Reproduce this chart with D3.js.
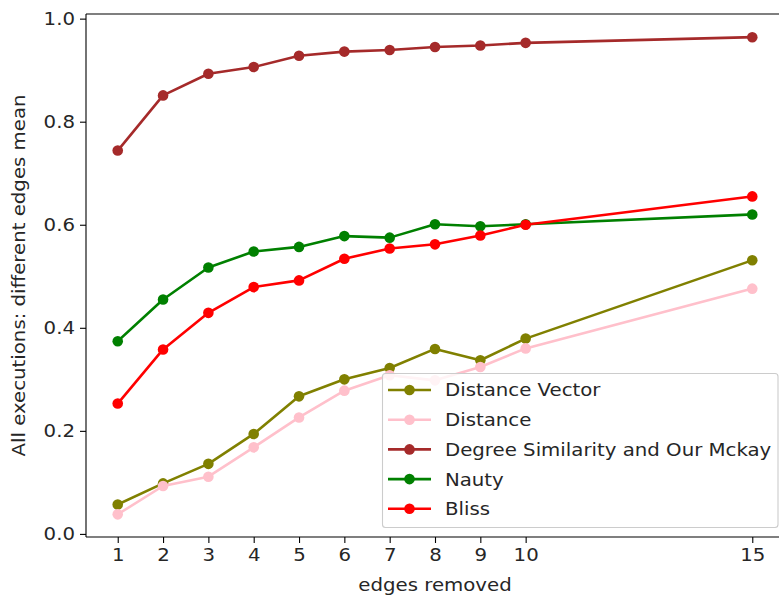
<!DOCTYPE html>
<html>
<head>
<meta charset="utf-8">
<script src="https://cdn.jsdelivr.net/npm/d3@7"></script>
<style>
  html, body { margin: 0; padding: 0; background: #fff; overflow: hidden; }
  svg { display: block; }
  text { font-family: "DejaVu Sans", sans-serif; fill: #262626; }
</style>
</head>
<body>
<svg id="chart" width="779" height="596"></svg>
<script>
// ---- data ----
const edgesRemoved = [1, 2, 3, 4, 5, 6, 7, 8, 9, 10, 15];
const xTicks = [1, 2, 3, 4, 5, 6, 7, 8, 9, 10, 15];
const yTicks = [0.0, 0.2, 0.4, 0.6, 0.8, 1.0];

const seriesNames = ["Distance Vector", "Distance", "Degree Similarity and Our Mckay", "Nauty", "Bliss"];
const seriesColors = ["#808000", "#ffc0cb", "#a52a2a", "#008000", "#ff0000"];

const distanceVector = [0.057, 0.098, 0.136, 0.194, 0.267, 0.300, 0.322, 0.359, 0.337, 0.379, 0.531];
const distance       = [0.038, 0.093, 0.111, 0.168, 0.226, 0.278, 0.308, 0.298, 0.324, 0.360, 0.476];
const degreeSim      = [0.744, 0.851, 0.893, 0.906, 0.928, 0.936, 0.939, 0.945, 0.948, 0.953, 0.964];
const nauty          = [0.374, 0.455, 0.517, 0.548, 0.557, 0.578, 0.575, 0.601, 0.597, 0.601, 0.620];
const bliss          = [0.253, 0.358, 0.429, 0.479, 0.492, 0.534, 0.554, 0.562, 0.579, 0.600, 0.655];

const seriesValues = [distanceVector, distance, degreeSim, nauty, bliss];

const xLabel = "edges removed";
const yLabel = "All executions: different edges mean";

// ---- layout ----
const svg = d3.select("#chart");
const pLeft = 86, pRight = 784, pTop = 14, pBottom = 537;
const fontSize = 17.8;
const stretch = 1.11;

const x = d3.scaleLinear().domain([0.3, 15.7]).range([pLeft, pRight]);
const y = d3.scaleLinear().domain([-0.006, 1.009]).range([pBottom, pTop]);

// axes
const xAxis = d3.axisBottom(x).tickValues(xTicks).tickFormat(d3.format("d")).tickSizeInner(6).tickSizeOuter(0).tickPadding(5);
const yAxis = d3.axisLeft(y).tickValues(yTicks).tickFormat(d3.format(".1f")).tickSizeInner(6).tickSizeOuter(0).tickPadding(5);

const gx = svg.append("g").attr("transform", `translate(0,${pBottom})`).call(xAxis);
const gy = svg.append("g").attr("transform", `translate(${pLeft},0)`).call(yAxis);
[gx, gy].forEach(g => {
  g.select(".domain").remove();
  g.selectAll(".tick line").attr("stroke", "#000").attr("stroke-width", 1.1);
  g.selectAll(".tick text").attr("font-size", fontSize).attr("font-family", "DejaVu Sans, sans-serif").attr("fill", "#262626");
});

// spines
const spine = (x1, y1, x2, y2) => svg.append("line").attr("x1", x1).attr("y1", y1).attr("x2", x2).attr("y2", y2)
  .attr("stroke", "#000").attr("stroke-width", 1.1);
spine(pLeft, pTop, pLeft, pBottom);
spine(pLeft, pBottom, pRight, pBottom);
spine(pLeft, pTop, pRight, pTop);
spine(pRight, pTop, pRight, pBottom);

// series
const line = d3.line().x((d, i) => x(edgesRemoved[i])).y(d => y(d));
seriesValues.forEach((vals, si) => {
  const g = svg.append("g");
  g.append("path").datum(vals).attr("d", line).attr("fill", "none")
    .attr("stroke", seriesColors[si]).attr("stroke-width", 2.6).attr("stroke-linejoin", "round").attr("stroke-linecap", "square");
  g.selectAll("circle").data(vals).join("circle")
    .attr("cx", (d, i) => x(edgesRemoved[i])).attr("cy", d => y(d)).attr("r", 5.3)
    .attr("fill", seriesColors[si]);
});

// axis labels
svg.append("text").attr("x", (pLeft + pRight) / 2).attr("y", 591).attr("text-anchor", "middle")
  .attr("font-size", fontSize).text(xLabel);
svg.append("text").attr("transform", `translate(25,${(pTop + pBottom) / 2}) rotate(-90)`).attr("text-anchor", "middle")
  .attr("font-size", fontSize).text(yLabel);

// legend
const lg = svg.append("g");
lg.append("rect").attr("x", 382.5).attr("y", 373.5).attr("width", 395.5).attr("height", 154)
  .attr("rx", 3).attr("fill", "#fff").attr("fill-opacity", 0.8).attr("stroke", "#cccccc").attr("stroke-width", 1.1);
seriesNames.forEach((name, i) => {
  const cy = 390 + i * 29.7;
  lg.append("line").attr("x1", 388).attr("x2", 431).attr("y1", cy).attr("y2", cy)
    .attr("stroke", seriesColors[i]).attr("stroke-width", 2.6);
  lg.append("circle").attr("cx", 409.5).attr("cy", cy).attr("r", 5.3).attr("fill", seriesColors[i]);
  lg.append("text").attr("x", 445).attr("y", cy).attr("dy", "0.36em").attr("font-size", fontSize).text(name);
});

// widen text slightly to match the reference's rendering
svg.selectAll("text").each(function () {
  const len = this.getComputedTextLength();
  d3.select(this).attr("textLength", len * stretch).attr("lengthAdjust", "spacingAndGlyphs");
});
</script>
</body>
</html>
